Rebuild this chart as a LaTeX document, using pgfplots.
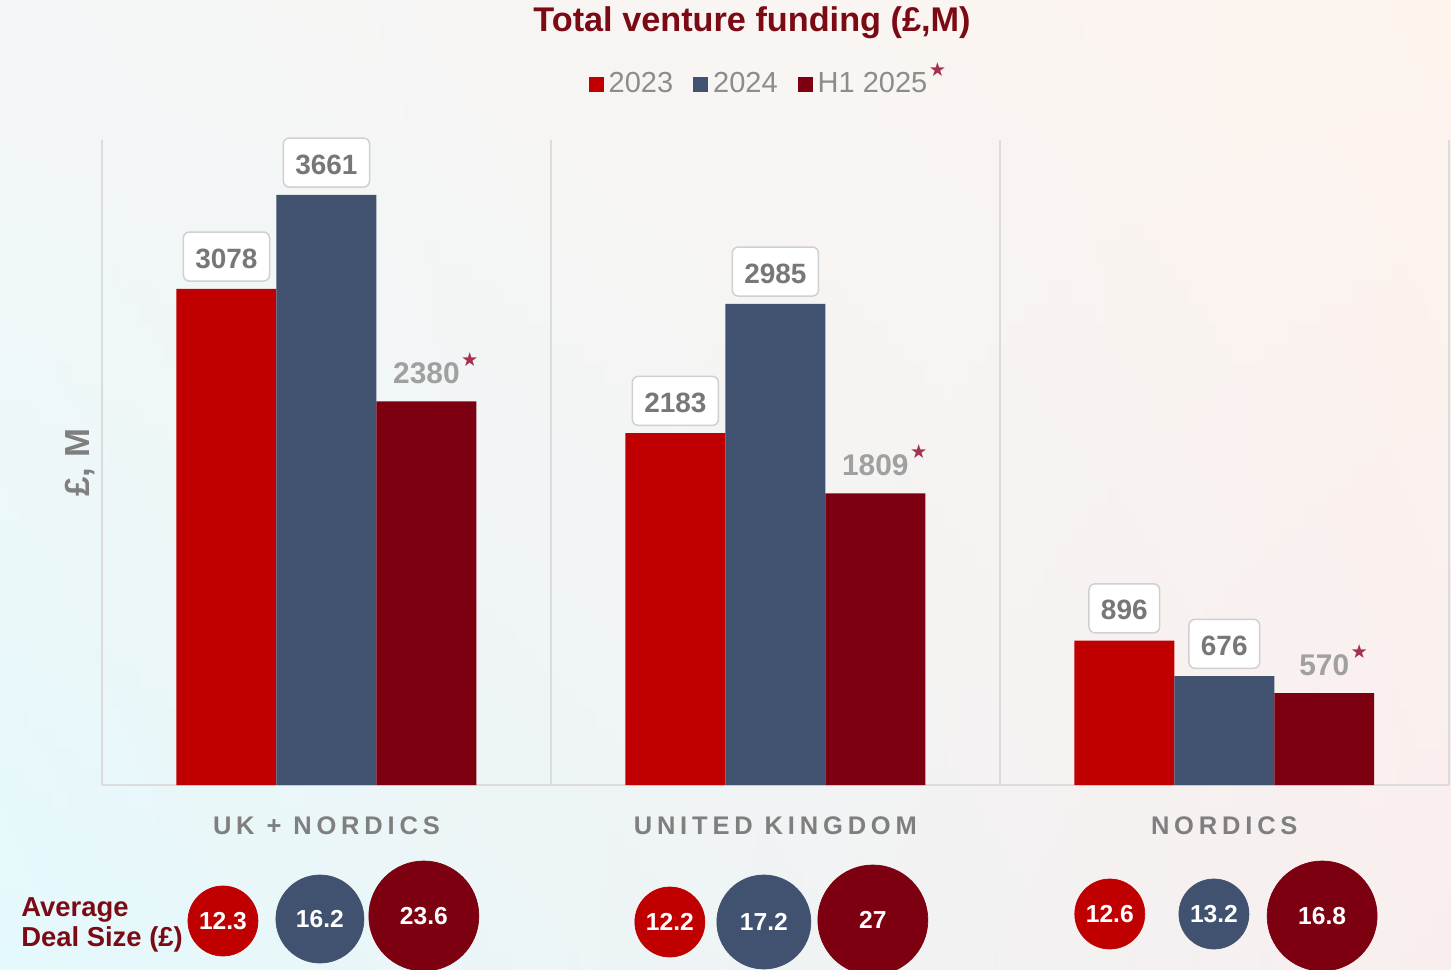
\documentclass[border=0pt]{standalone}
\usepackage{pgfplots}
\pgfplotsset{compat=1.18}
\usepackage{fontspec}
\setmainfont{Liberation Sans}
\newfontfamily\sym{DejaVu Sans}
\newfontfamily\catfont[LetterSpace=19]{Liberation Sans}
\definecolor{c23}{HTML}{C00000}
\definecolor{c24}{HTML}{405270}
\definecolor{c25}{HTML}{7C0010}
\definecolor{titlec}{HTML}{7B0A14}
\definecolor{gridc}{HTML}{DCDCDC}
\definecolor{labgray}{HTML}{777777}
\definecolor{h1gray}{HTML}{A0A0A0}
\definecolor{leggray}{HTML}{8C8C8C}
\definecolor{catgray}{HTML}{7F7F7F}
\definecolor{boxc}{HTML}{D0D0D0}
\definecolor{starc}{HTML}{A3324F}
\definecolor{bgTL}{HTML}{F4F6F7}
\definecolor{bgTR}{HTML}{FDF4EE}
\definecolor{bgBL}{HTML}{E4F9FC}
\definecolor{bgBR}{HTML}{F9EEEE}
\newcommand\hstar{\rlap{\hspace{0.03cm}\smash{\raisebox{0.33cm}{\color{starc}\sym\fontsize{11}{13}\selectfont ★}}}}
\tikzset{
  boxlabel/.style={draw=boxc, line width=0.85pt, fill=white, rounded corners=0.12cm,
    text=labgray, font=\bfseries\fontsize{15.9}{18}\selectfont,
    inner xsep=0.24cm, inner ysep=0.26cm, text height=0.46cm, text depth=0cm,
    anchor=south, yshift=0.14cm},
  h1label/.style={text=h1gray, font=\bfseries\fontsize{17}{19}\selectfont,
    anchor=base, yshift=0.36cm, inner sep=0pt},
}
\pgfplotsset{
  sqlegend/.style={legend image code/.code={\fill[##1] (0cm,-0.15cm) rectangle (0.3cm,0.15cm);}},
  bub/.style 2 args={only marks, mark=*, draw=#1, fill=#1, mark size=#2,
    point meta=explicit symbolic, nodes near coords,
    every node near coord/.append style={anchor=center, text=white,
      font=\bfseries\fontsize{14}{16}\selectfont}},
}
\pgfkeys{/pgf/number format/.cd, 1000 sep={}, assume math mode=true}
\begin{document}
\begin{tikzpicture}[x=0.02cm,y=0.02cm]
\useasboundingbox (0,0) rectangle (1451,970);
\foreach \i in {0,...,47} {
  \pgfmathsetmacro\p{(\i+0.5)*2.0833}
  \pgfmathsetmacro\ya{\i*20.2083}
  \pgfmathsetmacro\yb{\i*20.2083+21.2}
  \fill[left color=bgTL!\p!bgBL, right color=bgTR!\p!bgBR]
    (0,\ya) rectangle (1451,\yb);
}

\node[anchor=base, text=titlec, font=\bfseries\fontsize{19.5}{23}\selectfont] at (752,938) {Total venture funding (£,M)};
\node[anchor=base west, inner sep=0pt, text=titlec, font=\bfseries\fontsize{15.6}{18}\selectfont] at (21,53) {Average};
\node[anchor=base west, inner sep=0pt, text=titlec, font=\bfseries\fontsize{15.6}{18}\selectfont] at (21,23) {Deal Size (£)};

\begin{axis}[
  at={(2.04cm,3.7cm)}, anchor=south west,
  scale only axis, width=26.94cm, height=12.9cm,
  ybar=0pt, bar width=2cm,
  xmin=-0.5, xmax=2.5, ymin=0, ymax=4000, enlargelimits=false,
  clip=false,
  axis x line*=bottom, axis y line*=left,
  axis line style={draw=gridc, line width=1.1pt, -},
  xtick={0,1,2}, xticklabels={UK + NORDICS, UNITED KINGDOM, NORDICS},
  ytick=\empty,
  tick style={draw=none},
  xticklabel style={font=\catfont\bfseries\fontsize{14.5}{17}\selectfont, text=catgray, yshift=-0.36cm},
  extra x ticks={0.5,1.5,2.5}, extra x tick labels={},
  extra x tick style={grid=major},
  major grid style={draw=gridc, line width=1.1pt},
  ylabel={£, M},
  ylabel style={at={(axis description cs:-0.0163,0.5)}, anchor=center,
    font=\bfseries\fontsize{19.8}{22}\selectfont, text=catgray},
  legend columns=3,
  legend style={at={(axis description cs:0.489,1.087)}, anchor=center, draw=none, fill=none,
    font=\fontsize{16.5}{19}\selectfont, text=leggray,
    nodes={inner xsep=0.1cm},
    /tikz/every even column/.append style={column sep=0.3cm}},
]
\addplot[fill=c23, draw=none, sqlegend, nodes near coords,
  every node near coord/.append style={boxlabel}]
  coordinates {(0,3078) (1,2183) (2,896)};
\addplot[fill=c24, draw=none, sqlegend, nodes near coords,
  every node near coord/.append style={boxlabel}]
  coordinates {(0,3661) (1,2985) (2,676)};
\addplot[fill=c25, draw=none, sqlegend,
  nodes near coords={\pgfmathprintnumber{\pgfplotspointmeta}\hstar},
  every node near coord/.append style={h1label}]
  coordinates {(0,2380) (1,1809) (2,570)};
\addlegendentry{2023}
\addlegendentry{2024}
\addlegendentry{H1 2025\hstar}
\end{axis}

\begin{axis}[
  at={(2.04cm,0cm)}, anchor=south west,
  scale only axis, width=26.94cm, height=2.8cm,
  xmin=-0.5, xmax=2.5, ymin=0, ymax=140, hide axis, clip=false,
]
% 2023 bubbles
\addplot[bub={c23}{0.70cm}] coordinates {(-0.2305,49) [12.3]};
\addplot[bub={c23}{0.70cm}] coordinates {(0.765,48) [12.2]};
\addplot[bub={c23}{0.70cm}] coordinates {(1.745,56) [12.6]};
% 2024 bubbles
\addplot[bub={c24}{0.88cm}] coordinates {(-0.0145,51) [16.2]};
\addplot[bub={c24}{0.94cm}] coordinates {(0.9744,48) [17.2]};
\addplot[bub={c24}{0.70cm}] coordinates {(1.977,56) [13.2]};
% H1 2025 bubbles
\addplot[bub={c25}{1.10cm}] coordinates {(0.217,54) [23.6]};
\addplot[bub={c25}{1.10cm}] coordinates {(1.2172,50) [27]};
\addplot[bub={c25}{1.10cm}] coordinates {(2.218,54) [16.8]};
\end{axis}
\end{tikzpicture}
\end{document}
